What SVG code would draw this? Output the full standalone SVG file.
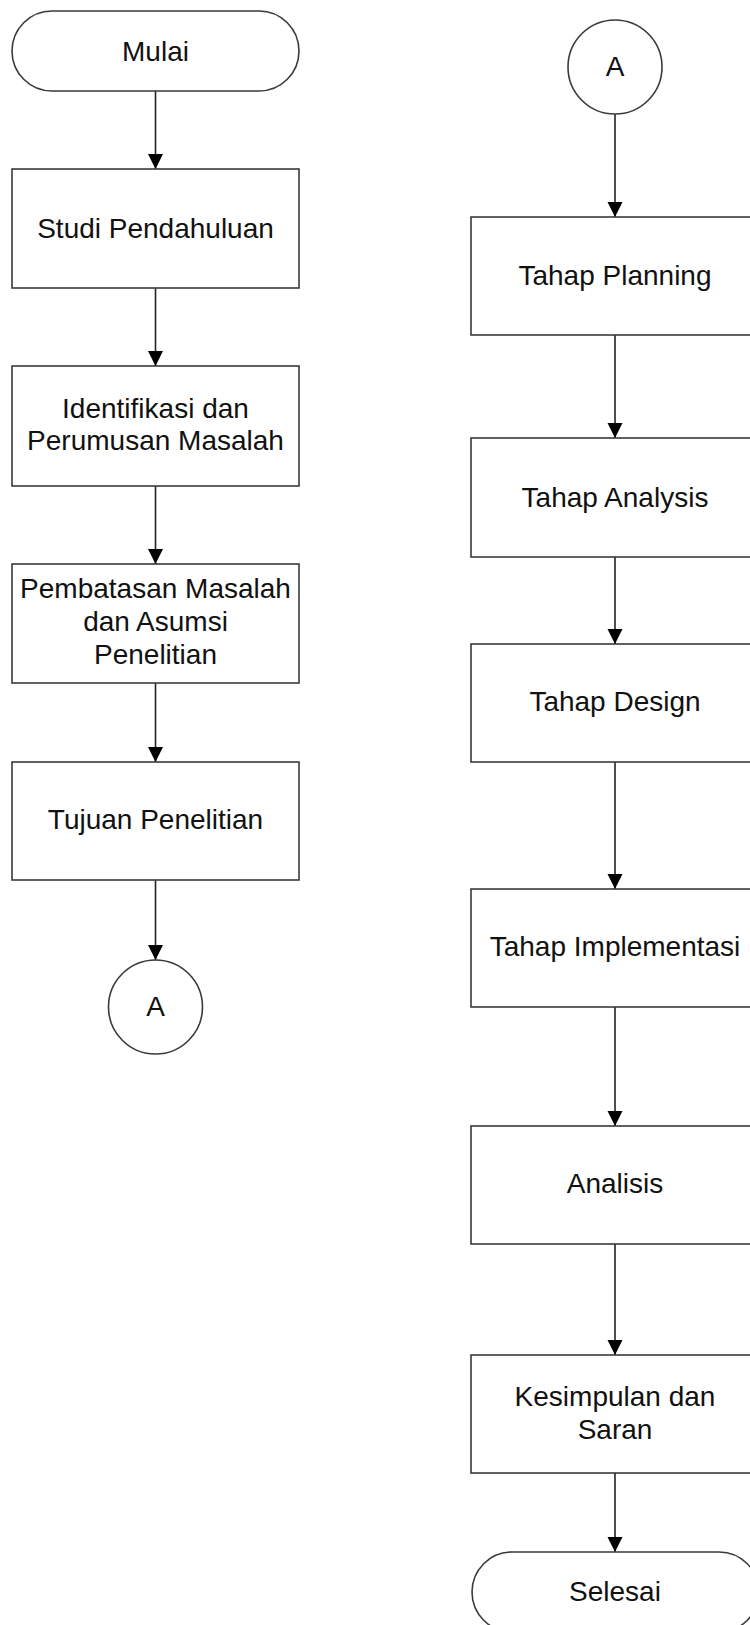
<svg xmlns="http://www.w3.org/2000/svg" width="750" height="1625" viewBox="0 0 750 1625">
<defs>
<marker id="arr" markerUnits="userSpaceOnUse" markerWidth="16" markerHeight="16" viewBox="0 0 16 16" refX="15" refY="8" orient="auto">
<path d="M0,0.5 L15,8 L0,15.5 Z" fill="#000"/>
</marker>
<style>
.s{fill:#fff;stroke:#3a3a3a;stroke-width:1.6}
.t{font-family:"Liberation Sans",Arial,sans-serif;font-size:28px;fill:#111;text-anchor:middle}
.c{fill:none;stroke:#222;stroke-width:1.6}
</style>
</defs>
<rect width="750" height="1625" fill="#fff"/>
<g id="connectors">
<path class="c" d="M155.5,91 V169" marker-end="url(#arr)"/>
<path class="c" d="M155.5,288 V366" marker-end="url(#arr)"/>
<path class="c" d="M155.5,486 V564" marker-end="url(#arr)"/>
<path class="c" d="M155.5,683 V762" marker-end="url(#arr)"/>
<path class="c" d="M155.5,880 V960" marker-end="url(#arr)"/>
<path class="c" d="M615,114 V217" marker-end="url(#arr)"/>
<path class="c" d="M615,335 V438" marker-end="url(#arr)"/>
<path class="c" d="M615,557 V644" marker-end="url(#arr)"/>
<path class="c" d="M615,762 V889" marker-end="url(#arr)"/>
<path class="c" d="M615,1007 V1126" marker-end="url(#arr)"/>
<path class="c" d="M615,1244 V1355" marker-end="url(#arr)"/>
<path class="c" d="M615,1473 V1552" marker-end="url(#arr)"/>
</g>
<g id="mulai">
<rect class="s" x="12" y="11" width="287" height="80" rx="40" ry="40"/>
<text class="t" x="155.5" y="61">Mulai</text>
</g>
<g id="studi">
<rect class="s" x="12" y="169" width="287" height="119"/>
<text class="t" x="155.5" y="238">Studi Pendahuluan</text>
</g>
<g id="identifikasi">
<rect class="s" x="12" y="366" width="287" height="120"/>
<text class="t" x="155.5" y="418">Identifikasi dan</text>
<text class="t" x="155.5" y="450">Perumusan Masalah</text>
</g>
<g id="pembatasan">
<rect class="s" x="12" y="564" width="287" height="119"/>
<text class="t" x="155.5" y="598">Pembatasan Masalah</text>
<text class="t" x="155.5" y="631">dan Asumsi</text>
<text class="t" x="155.5" y="664">Penelitian</text>
</g>
<g id="tujuan">
<rect class="s" x="12" y="762" width="287" height="118"/>
<text class="t" x="155.5" y="829">Tujuan Penelitian</text>
</g>
<g id="connA1">
<circle class="s" cx="155.5" cy="1007" r="47"/>
<text class="t" x="155.5" y="1016">A</text>
</g>
<g id="connA2">
<circle class="s" cx="615" cy="67" r="47"/>
<text class="t" x="615" y="76">A</text>
</g>
<g id="planning">
<rect class="s" x="471" y="217" width="287" height="118"/>
<text class="t" x="615" y="285">Tahap Planning</text>
</g>
<g id="analysis">
<rect class="s" x="471" y="438" width="287" height="119"/>
<text class="t" x="615" y="507">Tahap Analysis</text>
</g>
<g id="design">
<rect class="s" x="471" y="644" width="287" height="118"/>
<text class="t" x="615" y="711">Tahap Design</text>
</g>
<g id="implementasi">
<rect class="s" x="471" y="889" width="287" height="118"/>
<text class="t" x="615" y="956">Tahap Implementasi</text>
</g>
<g id="analisis">
<rect class="s" x="471" y="1126" width="287" height="118"/>
<text class="t" x="615" y="1193">Analisis</text>
</g>
<g id="kesimpulan">
<rect class="s" x="471" y="1355" width="287" height="118"/>
<text class="t" x="615" y="1406">Kesimpulan dan</text>
<text class="t" x="615" y="1439">Saran</text>
</g>
<g id="selesai">
<rect class="s" x="472" y="1552" width="287" height="80" rx="40" ry="40"/>
<text class="t" x="615" y="1601">Selesai</text>
</g>
</svg>
